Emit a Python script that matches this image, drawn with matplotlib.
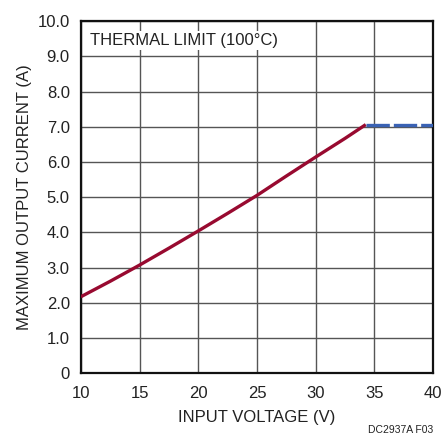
import matplotlib
matplotlib.use("Agg")
import matplotlib.pyplot as plt
from matplotlib import font_manager

# curve
vin = [10, 12.5, 15, 17.5, 20, 22.5, 25, 27.5, 30, 32.5, 34.26]
iout = [2.17, 2.61, 3.07, 3.55, 4.04, 4.54, 5.05, 5.6, 6.14, 6.67, 7.06]
limit_vin = [34.26, 40]
limit_iout = [7.06, 7.06]

xticks = [10, 15, 20, 25, 30, 35, 40]
yticks = [0, 1, 2, 3, 4, 5, 6, 7, 8, 9, 10]
ytick_labels = ["0", "1.0", "2.0", "3.0", "4.0", "5.0", "6.0", "7.0", "8.0", "9.0", "10.0"]

names = {f.name for f in font_manager.fontManager.ttflist}
fam = "Liberation Sans Narrow" if "Liberation Sans Narrow" in names else "Liberation Sans"
plt.rcParams['font.family'] = [fam, 'DejaVu Sans']
fs = 14 if fam == "Liberation Sans Narrow" else 12

fig = plt.figure(figsize=(4.42, 4.40), dpi=100)
ax = fig.add_axes([0.183, 0.152, 0.797, 0.800])

ax.plot(vin, iout, color='#980a30', linewidth=2.4, solid_capstyle='butt', zorder=3)
ax.plot(limit_vin, limit_iout, color='#3a62b4', linewidth=2.4, dashes=(7, 1.2), zorder=3)

ax.set_xlim(10, 40)
ax.set_ylim(0, 10)
ax.set_xticks(xticks)
ax.set_yticks(yticks)
ax.set_yticklabels(ytick_labels)
ax.tick_params(length=0, labelsize=fs, colors='#222222')
ax.tick_params(axis='x', pad=9)
ax.tick_params(axis='y', pad=8)
ax.grid(True, color='#555555', linewidth=1.0)
ax.set_axisbelow(True)
for s in ax.spines.values():
    s.set_linewidth(1.6)
    s.set_color('#111111')

ax.set_xlabel("INPUT VOLTAGE (V)", fontsize=fs, labelpad=7, color='#222222')
ax.set_ylabel("MAXIMUM OUTPUT CURRENT (A)", fontsize=fs, labelpad=4, color='#222222')

ax.text(0.027, 0.965, "THERMAL LIMIT (100°C)", transform=ax.transAxes, fontsize=fs,
        ha='left', va='top', color='#222222',
        bbox=dict(facecolor='white', edgecolor='none', pad=1.5))

fig.text(0.98, 0.012, "DC2937A F03", fontsize=7.5, ha='right', va='bottom', color='#222222')

fig.savefig("out.png", dpi=100)
